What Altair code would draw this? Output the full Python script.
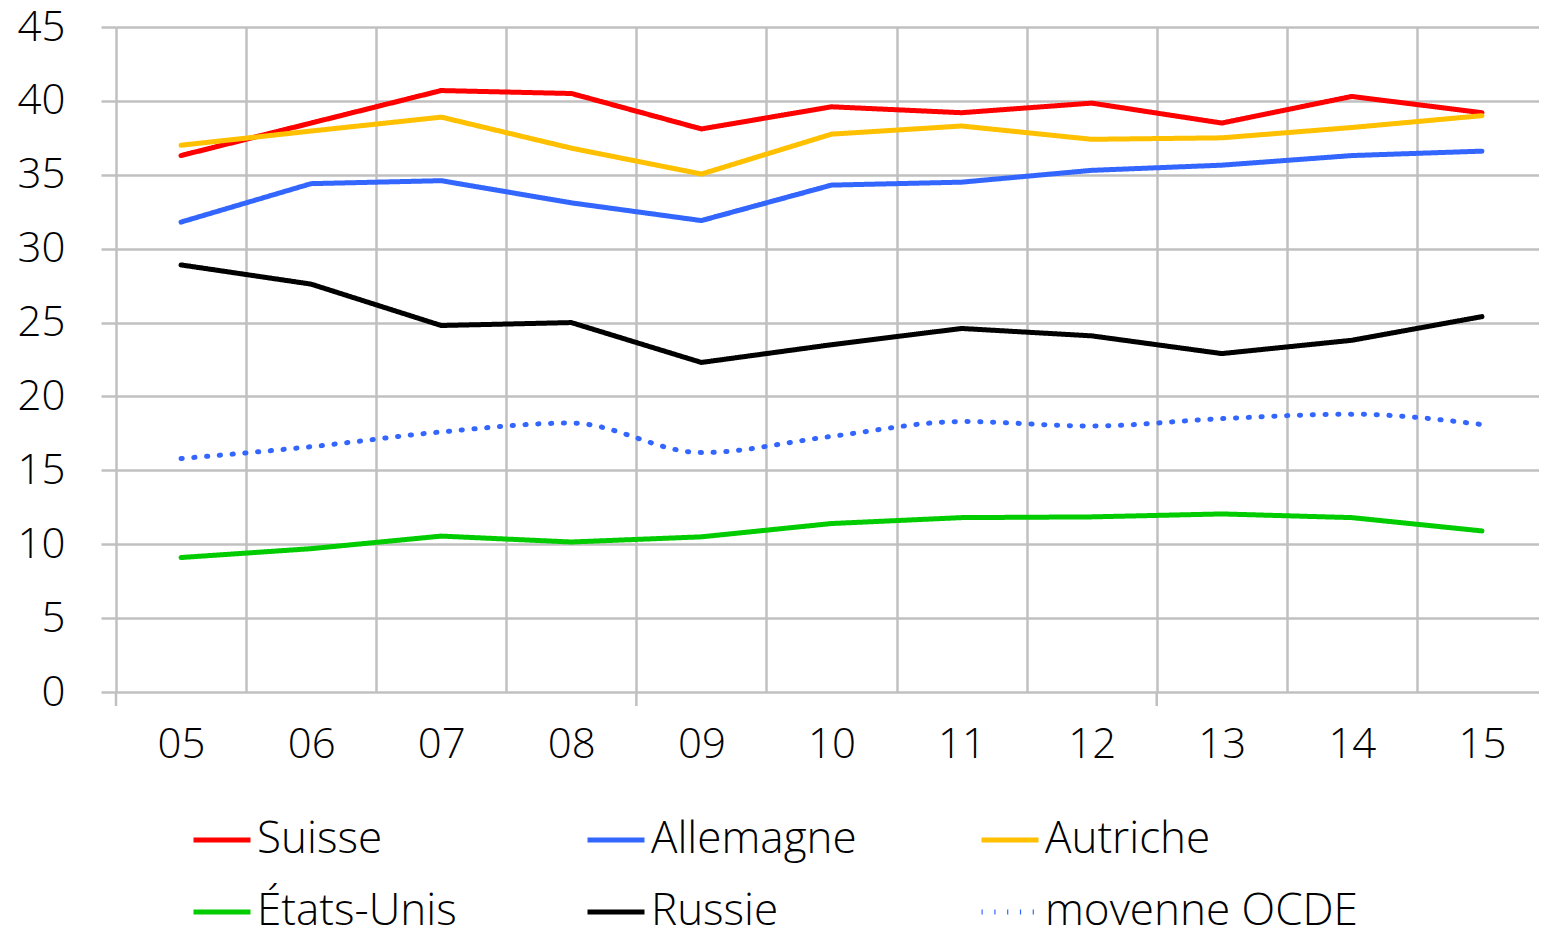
import altair as alt
import pandas as pd

years = ["05", "06", "07", "08", "09", "10", "11", "12", "13", "14", "15"]
series_names = ["Suisse", "Allemagne", "Autriche", "États-Unis", "Russie", "moyenne OCDE"]
# legend fills column by column: order so that rows read Suisse/Allemagne/Autriche
legend_order = ["Suisse", "États-Unis", "Allemagne", "Russie", "Autriche", "moyenne OCDE"]

suisse = [36.3, 38.5, 40.7, 40.5, 38.1, 39.6, 39.2, 39.85, 38.5, 40.3, 39.2]
allemagne = [31.8, 34.4, 34.6, 33.1, 31.9, 34.3, 34.5, 35.3, 35.65, 36.3, 36.6]
autriche = [37.0, 37.96, 38.9, 36.8, 35.05, 37.75, 38.3, 37.4, 37.5, 38.2, 39.0]
etats_unis = [9.1, 9.7, 10.55, 10.15, 10.5, 11.4, 11.8, 11.85, 12.05, 11.8, 10.9]
russie = [28.9, 27.6, 24.8, 25.0, 22.3, 23.5, 24.6, 24.1, 22.9, 23.8, 25.4]
ocde = [15.8, 16.6, 17.6, 18.2, 16.2, 17.3, 18.3, 18.0, 18.5, 18.8, 18.1]

tick_years = ["05", "09", "13"]
y_ticks = [0, 5, 10, 15, 20, 25, 30, 35, 40, 45]

color_map = {
    "Suisse": "#FF0000", "Allemagne": "#3366FF", "Autriche": "#FFC000",
    "États-Unis": "#00CC00", "Russie": "#000000", "moyenne OCDE": "#3366FF",
}
dash_map = {
    "Suisse": [1, 0], "Allemagne": [1, 0], "Autriche": [1, 0],
    "États-Unis": [1, 0], "Russie": [1, 0], "moyenne OCDE": [1.2, 11.6],
}

rows = []
for name, vals in zip(series_names, [suisse, allemagne, autriche, etats_unis, russie, ocde]):
    for yr, v in zip(years, vals):
        rows.append({"annee": yr, "serie": name, "valeur": v})
df = pd.DataFrame(rows)
ticks_df = pd.DataFrame({"annee": tick_years})

FONT = "Open Sans"
GRID = "#C0C0C0"

legend = alt.Legend(
    title=None, orient="none", legendX=75, legendY=782, columns=3,
    symbolType="stroke", symbolSize=3249, symbolStrokeWidth=5,
    labelFont=FONT, labelFontSize=44, labelFontWeight=300, labelColor="#000000", labelOffset=4,
    labelLimit=600, columnPadding=7, rowPadding=19, gridAlign="all",
    padding=0, offset=0, symbolLimit=0,
)

x_enc = alt.X(
    "annee:O",
    scale=alt.Scale(type="band", domain=years, paddingInner=0, paddingOuter=0),
    bandPosition=0.5,
    axis=alt.Axis(
        title=None, tickBand="extent", labelAngle=0, labelAlign="center", ticks=False, domain=False,
        grid=True, gridColor=GRID, gridWidth=2.5,
        labelFont=FONT, labelFontSize=42, labelFontWeight=300, labelColor="#000000", labelPadding=52,
    ),
)
y_enc = alt.Y(
    "valeur:Q",
    scale=alt.Scale(domain=[0, 45], nice=False, zero=True),
    axis=alt.Axis(
        title=None, values=y_ticks, domain=False, grid=True, gridColor=GRID, gridWidth=2.5,
        tickSize=15, tickColor=GRID, tickWidth=2.5, labelPadding=36,
        labelFont=FONT, labelFontSize=42, labelFontWeight=300, labelColor="#000000",
    ),
)
color_enc = alt.Color(
    "serie:N",
    scale=alt.Scale(domain=legend_order, range=[color_map[s] for s in legend_order]),
    legend=legend,
)
dash_enc = alt.StrokeDash(
    "serie:N",
    scale=alt.Scale(domain=legend_order, range=[dash_map[s] for s in legend_order]),
    legend=legend,
)

solid = alt.Chart(df).transform_filter(alt.datum.serie != "moyenne OCDE").mark_line(
    strokeWidth=5, strokeCap="round", strokeJoin="round"
).encode(x=x_enc, y=y_enc, color=color_enc, strokeDash=dash_enc, detail="serie:N")

dotted = alt.Chart(df).transform_filter(alt.datum.serie == "moyenne OCDE").mark_line(
    strokeWidth=5, strokeCap="round", interpolate="monotone"
).encode(x=x_enc, y=y_enc, color=color_enc, strokeDash=dash_enc)

ticks = alt.Chart(ticks_df).mark_rule(color=GRID, strokeWidth=2.5).encode(
    x=alt.X("annee:O", bandPosition=0), y=alt.value(665), y2=alt.value(679)
)

chart = alt.layer(ticks, dotted, solid).properties(
    width=1431, height=665,
    autosize=alt.AutoSizeParams(type="none"),
    padding={"left": 108, "top": 19, "right": -8, "bottom": 233},
).configure_view(stroke=None).configure(font=FONT)

chart.save("out.html", embed_options={"renderer": "svg", "actions": False})
